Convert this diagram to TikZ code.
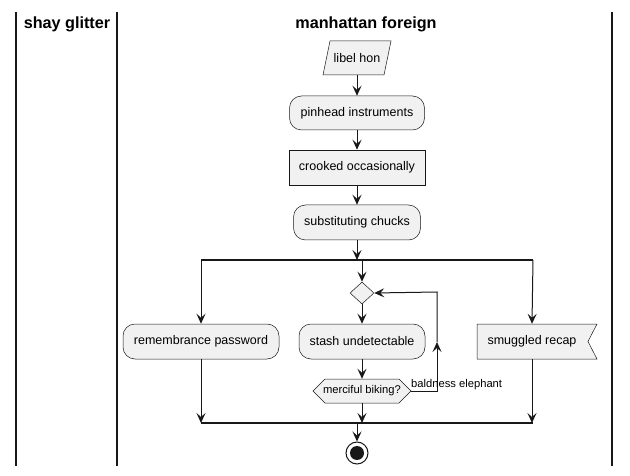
\documentclass[tikz,border=0pt]{standalone}
\usepackage{fontspec}
\setmainfont{Liberation Sans}
\usetikzlibrary{arrows.meta,shapes.geometric}
\definecolor{ln}{HTML}{181818}
\definecolor{bx}{HTML}{F1F1F1}
\begin{document}
\begin{tikzpicture}[x=1pt,y=-1pt,
  box/.style={draw=ln, fill=bx, line width=0.5pt, inner sep=0pt, font=\fontsize{12.5}{14}\selectfont},
  rbox/.style={box, rounded corners=12pt},
  txt/.style={inner sep=0pt, font=\fontsize{12.5}{14}\selectfont},
  shp/.style={draw=ln, fill=bx, line width=0.5pt},
  arr/.style={draw=ln, line width=1pt, -{Stealth[length=10pt,width=9pt,inset=4pt]}},
  bar/.style={draw=ln, line width=2pt},
  lane/.style={draw=ln, line width=1.4pt},
  title/.style={inner sep=0pt, font=\bfseries\fontsize{16.2}{18}\selectfont}]
\useasboundingbox[fill=white] (0,0) rectangle (630,476);

% swimlanes
\coordinate (l1t) at (16,12);  \coordinate (l1b) at (16,466);
\coordinate (l2t) at (117,12); \coordinate (l2b) at (117,466);
\coordinate (l3t) at (612,12); \coordinate (l3b) at (612,466);
\draw[lane] (l1t) -- (l1b);
\draw[lane] (l2t) -- (l2b);
\draw[lane] (l3t) -- (l3b);
\node[title] (t1) at (67,24) {shay glitter};
\node[title] (t2) at (366,24) {manhattan foreign};

% libel hon (parallelogram)
\path[shp] (330,41) -- (391,41) -- (384,75) -- (323,75) -- cycle;
\node[txt, minimum width=50pt, minimum height=34pt] (libel) at (357,58) {libel hon};

\node[rbox, minimum width=135pt, minimum height=34pt] (pin) at (357,113) {pinhead instruments};
\node[box, minimum width=136pt, minimum height=35pt] (crook) at (357,167.5) {crooked occasionally};
\node[rbox, minimum width=127pt, minimum height=35pt] (chuck) at (357,222.5) {substituting chucks};

\draw[arr] (libel.south) -- (pin.north);
\draw[arr] (pin.south) -- (crook.north);
\draw[arr] (crook.south) -- (chuck.north);

% fork bar
\coordinate (fL) at (201,260);
\coordinate (fR) at (533,260);
\coordinate (fC) at (357,260);
\coordinate (fD) at (362,260);
\draw[arr] (chuck.south) -- (fC);

% branches
\node[rbox, minimum width=156pt, minimum height=35pt] (rem) at (201,341.5) {remembrance password};
\node[shp, diamond, minimum width=24pt, minimum height=22pt, inner sep=0pt] (dia) at (362,293) {};
\node[rbox, minimum width=126pt, minimum height=35pt] (stash) at (362,341.5) {stash undetectable};

\path[shp] (313,391) -- (325,379) -- (399,379) -- (411,391) -- (399,403) -- (325,403) -- cycle;
\node[inner sep=0pt, font=\fontsize{11.2}{13}\selectfont, minimum width=98pt, minimum height=24pt] (hex) at (362,391) {merciful biking?};

\path[shp] (477,324) -- (597,324) -- (588,341.5) -- (597,359) -- (477,359) -- cycle;
\node[txt, minimum width=110pt, minimum height=35pt] (recap) at (532,341.5) {smuggled recap};

\draw[arr] (fL) -- (rem.north);
\draw[arr] (fD) -- (dia.north);
\draw[arr] (fR) -- (recap.north);
\draw[arr] (dia.south) -- (stash.north);
\draw[arr] (stash.south) -- (hex.north);

% loop back
\coordinate (lp1) at (437,391);
\coordinate (lpm) at (437,342);
\coordinate (lp2) at (437,292);
\draw[arr] (hex.east) -- (lp1) -- (lpm);
\draw[arr] (lpm) -- (lp2) -- (dia.east);
\node[inner sep=0pt, anchor=west, font=\fontsize{11.2}{13}\selectfont] (bald) at (411,385) {baldness elephant};

% join bar
\coordinate (jL) at (201,423);
\coordinate (jR) at (533,423);
\coordinate (jC) at (357,423);
\draw[arr] (rem.south) -- (jL |- jC);
\draw[arr] (hex.south) -- (hex.south |- jC);
\draw[arr] (recap.south) -- (recap.south |- jC);

\draw[bar] (fL) -- (fR);
\draw[bar] (jL) -- (jR);

% stop
\node[circle, draw=ln, fill=white, line width=1pt, minimum size=22pt, inner sep=0pt] (stop) at (357,453) {};
\node[circle, fill=ln, minimum size=14pt, inner sep=0pt] (stopin) at (stop) {};
\draw[arr] (jC) -- (stop.north);
\end{tikzpicture}
\end{document}
